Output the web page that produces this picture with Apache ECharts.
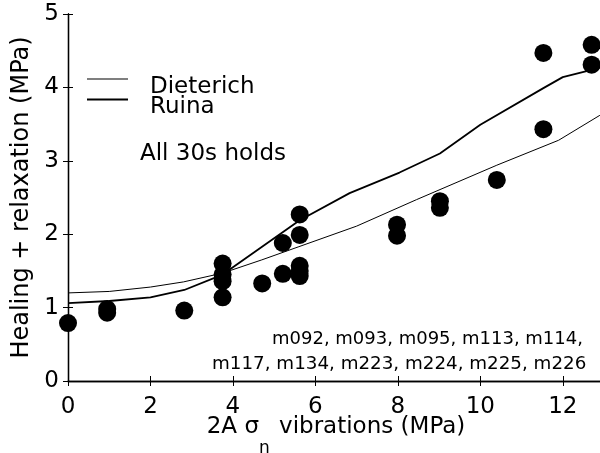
<!DOCTYPE html>
<html><head><meta charset="utf-8">
<script src="https://cdn.jsdelivr.net/npm/echarts@6/dist/echarts.min.js"></script>
<style>html,body{margin:0;padding:0;background:#fff}#c{width:600px;height:453px}</style>
</head><body><div id="c"></div>
<script>
const xTicks = [0, 2, 4, 6, 8, 10, 12];
const yTicks = [0, 1, 2, 3, 4, 5];
const pointX = [0, 0.95, 0.95, 2.82, 3.75, 3.75, 3.75, 3.75, 4.71, 5.21, 5.21, 5.62, 5.62, 5.62, 5.62, 5.62, 7.98, 7.98, 9.02, 9.02, 10.40, 11.53, 11.53, 12.70, 12.70];
const pointY = [0.79, 0.93, 0.98, 0.96, 1.60, 1.45, 1.36, 1.14, 1.33, 1.88, 1.46, 2.27, 1.99, 1.57, 1.50, 1.43, 2.13, 1.98, 2.45, 2.36, 2.74, 4.47, 3.43, 4.58, 4.31];
const dieterichX = [0, 1, 2, 2.8, 3.75, 4.7, 5.6, 7, 8.45, 10.4, 11.9, 12.9];
const dieterichY = [1.20, 1.22, 1.28, 1.35, 1.47, 1.65, 1.83, 2.11, 2.47, 2.94, 3.28, 3.62];
const ruinaX = [0, 1, 2, 2.82, 3.75, 5.62, 6.83, 8.04, 9.02, 10, 11.53, 12, 12.7, 12.9];
const ruinaY = [1.06, 1.09, 1.14, 1.24, 1.45, 2.19, 2.56, 2.84, 3.10, 3.49, 3.99, 4.14, 4.24, 4.27];
const seriesNames = ['Dieterich', 'Ruina'];
const xName = '2A σ{s|n} vibrations (MPa)';
const yName = 'Healing + relaxation (MPa)';
const noteText = 'All 30s holds';
const runLines = ['m092, m093, m095, m113, m114,', 'm117, m134, m223, m224, m225, m226'];

const FF = 'DejaVu Sans';
const pairs = (xs, ys) => xs.map((x, i) => [x, ys[i]]);
const chart = echarts.init(document.getElementById('c'), null, {renderer: 'canvas'});
const axisCommon = {
  min: 0,
  axisLine: {show: true, lineStyle: {color: '#000', width: 1.3}},
  axisTick: {show: true, inside: true, length: 5, lineStyle: {color: '#000', width: 1}},
  splitLine: {show: false}
};
const legendCommon = {
  orient: 'vertical', left: 87, padding: 0, icon: 'rect', itemWidth: 41,
  formatter: '{a|{name}}',
  textStyle: {fontFamily: FF, fontSize: 23, color: '#000',
    rich: {a: {fontFamily: FF, fontSize: 23, color: '#000', padding: [16, 0, 0, 17]}}}
};
chart.setOption({
  animation: false,
  backgroundColor: '#fff',
  grid: {left: 68, right: -4, top: 14, bottom: 72, containLabel: false, outerBoundsMode: 'none'},
  legend: [
    Object.assign({}, legendCommon, {data: [seriesNames[0]], top: 75.5, itemHeight: 1}),
    Object.assign({}, legendCommon, {data: [seriesNames[1]], top: 96, itemHeight: 2})
  ],
  xAxis: [
    Object.assign({}, axisCommon, {
      type: 'value', max: 13, interval: 2, position: 'bottom',
      name: xName, nameLocation: 'middle', nameGap: 17, nameMoveOverlap: false,
      nameTextStyle: {fontFamily: FF, fontSize: 23, color: '#000',
        rich: {s: {fontFamily: FF, fontSize: 17, color: '#000', padding: [42, 2, 0, 0]}}},
      axisLabel: {fontFamily: FF, fontSize: 23, color: '#000', margin: 15,
        formatter: v => xTicks.includes(v) ? String(v) : ''}
    }),
    Object.assign({}, axisCommon, {
      type: 'value', max: 13, interval: 2, position: 'top',
      axisLabel: {show: false}
    })
  ],
  yAxis: [
    Object.assign({}, axisCommon, {
      type: 'value', max: 5, interval: 1, position: 'left',
      name: yName, nameLocation: 'middle', nameGap: 34, nameMoveOverlap: false,
      nameTextStyle: {fontFamily: FF, fontSize: 24, color: '#000'},
      axisLabel: {fontFamily: FF, fontSize: 23, color: '#000', margin: 9,
        formatter: v => yTicks.includes(v) ? String(v) : ''}
    }),
    Object.assign({}, axisCommon, {
      type: 'value', max: 5, interval: 1, position: 'right',
      axisLabel: {show: false}
    })
  ],
  series: [
    {name: seriesNames[0], type: 'line', data: pairs(dieterichX, dieterichY), symbol: 'none',
     lineStyle: {color: '#000', width: 1}, itemStyle: {color: '#000'}, z: 2},
    {name: seriesNames[1], type: 'line', data: pairs(ruinaX, ruinaY), symbol: 'none',
     lineStyle: {color: '#000', width: 1.8}, itemStyle: {color: '#000'}, z: 2},
    {name: 'Data', type: 'scatter', data: pairs(pointX, pointY), symbol: 'circle', symbolSize: 18,
     itemStyle: {color: '#000', opacity: 1}, z: 3}
  ],
  graphic: [
    {type: 'text', left: 140, top: 143, style: {text: noteText, font: '23px "DejaVu Sans"', fill: '#000'}},
    {type: 'text', left: 272, top: 330, style: {text: runLines[0], font: '18px "DejaVu Sans"', fill: '#000'}},
    {type: 'text', left: 212, top: 355, style: {text: runLines[1], font: '18.3px "DejaVu Sans"', fill: '#000'}}
  ]
});
</script>
</body></html>
